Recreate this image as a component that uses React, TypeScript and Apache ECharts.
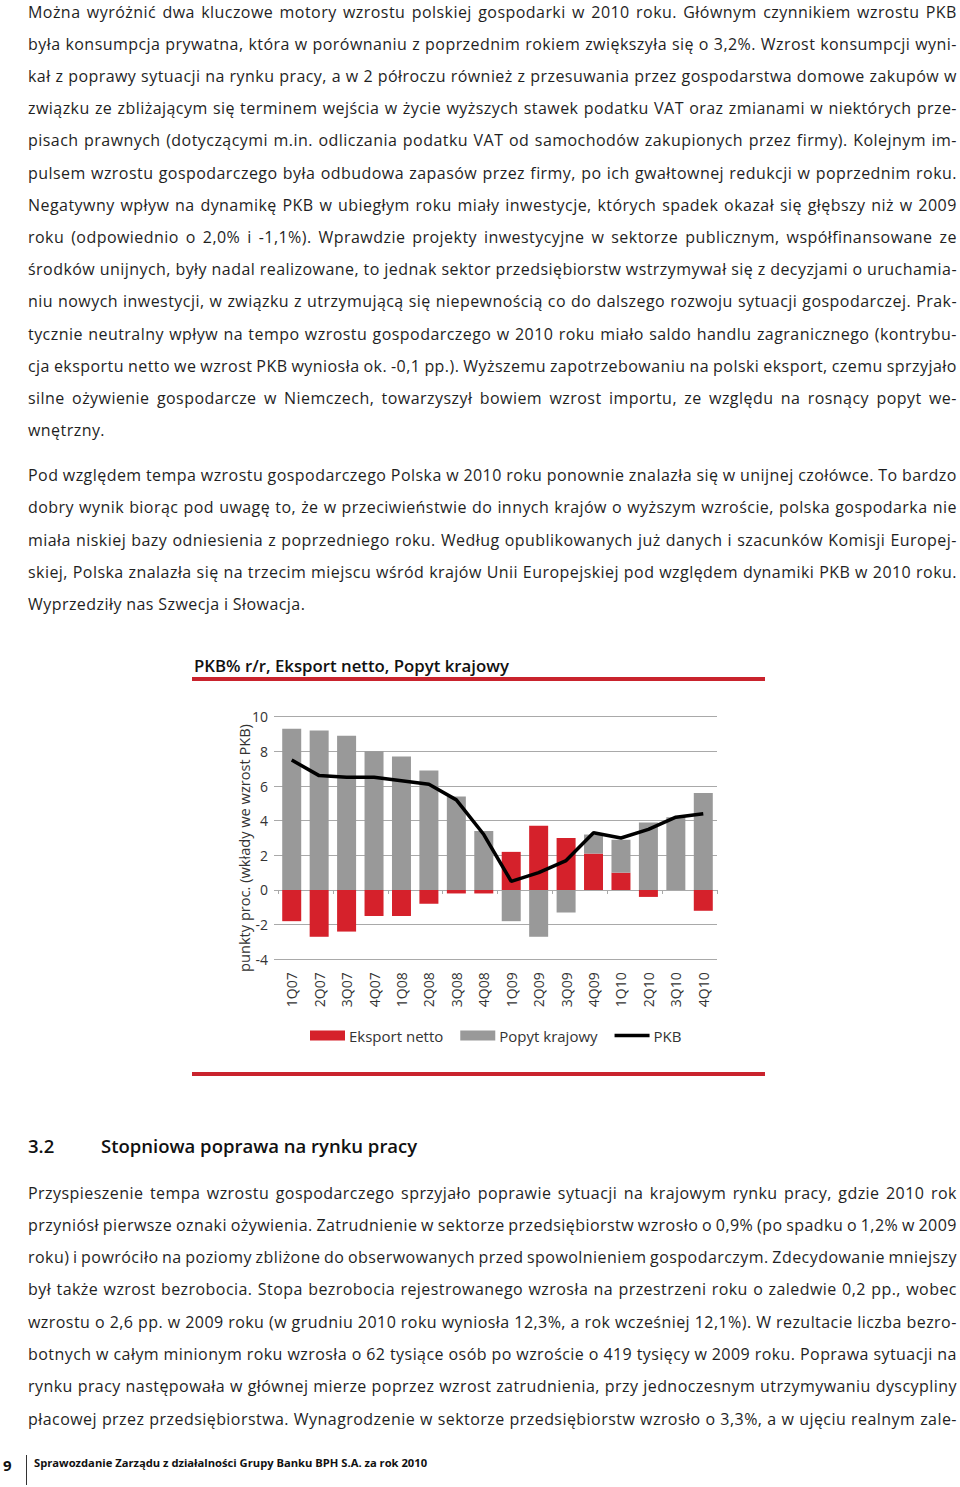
import React, { useEffect, useRef } from "react";
import * as echarts from "echarts";

const quarters = ["1Q07", "2Q07", "3Q07", "4Q07", "1Q08", "2Q08", "3Q08", "4Q08", "1Q09", "2Q09", "3Q09", "4Q09", "1Q10", "2Q10", "3Q10", "4Q10"];
const eksportNetto = [-1.8, -2.7, -2.4, -1.5, -1.5, -0.8, -0.2, -0.2, 2.2, 3.7, 3.0, 2.1, 1.0, -0.4, 0.0, -1.2];
const popytKrajowy = [9.3, 9.2, 8.9, 8.0, 7.7, 6.9, 5.4, 3.4, -1.8, -2.7, -1.3, 1.1, 1.9, 3.9, 4.2, 5.6];
const pkb = [7.5, 6.6, 6.5, 6.5, 6.3, 6.1, 5.2, 3.2, 0.5, 1.0, 1.7, 3.3, 3.0, 3.5, 4.2, 4.4];

const chartTitle = "PKB% r/r, Eksport netto, Popyt krajowy";
const yAxisTitle = "punkty proc. (wkłady we wzrost PKB)";

const para1 = [
  "Można wyróżnić dwa kluczowe motory wzrostu polskiej gospodarki w 2010 roku. Głównym czynnikiem wzrostu PKB",
  "była konsumpcja prywatna, która w porównaniu z poprzednim rokiem zwiększyła się o 3,2%. Wzrost konsumpcji wyni-",
  "kał z poprawy sytuacji na rynku pracy, a w 2 półroczu również z przesuwania przez gospodarstwa domowe zakupów w",
  "związku ze zbliżającym się terminem wejścia w życie wyższych stawek podatku VAT oraz zmianami w niektórych prze-",
  "pisach prawnych (dotyczącymi m.in. odliczania podatku VAT od samochodów zakupionych przez firmy). Kolejnym im-",
  "pulsem wzrostu gospodarczego była odbudowa zapasów przez firmy, po ich gwałtownej redukcji w poprzednim roku.",
  "Negatywny wpływ na dynamikę PKB w ubiegłym roku miały inwestycje, których spadek okazał się głębszy niż w 2009",
  "roku (odpowiednio o 2,0% i -1,1%). Wprawdzie projekty inwestycyjne w sektorze publicznym, współfinansowane ze",
  "środków unijnych, były nadal realizowane, to jednak sektor przedsiębiorstw wstrzymywał się z decyzjami o uruchamia-",
  "niu nowych inwestycji, w związku z utrzymującą się niepewnością co do dalszego rozwoju sytuacji gospodarczej. Prak-",
  "tycznie neutralny wpływ na tempo wzrostu gospodarczego w 2010 roku miało saldo handlu zagranicznego (kontrybu-",
  "cja eksportu netto we wzrost PKB wyniosła ok. -0,1 pp.). Wyższemu zapotrzebowaniu na polski eksport, czemu sprzyjało",
  "silne ożywienie gospodarcze w Niemczech, towarzyszył bowiem wzrost importu, ze względu na rosnący popyt we-",
  "wnętrzny.",
];
const para2 = [
  "Pod względem tempa wzrostu gospodarczego Polska w 2010 roku ponownie znalazła się w unijnej czołówce. To bardzo",
  "dobry wynik biorąc pod uwagę to, że w przeciwieństwie do innych krajów o wyższym wzroście, polska gospodarka nie",
  "miała niskiej bazy odniesienia z poprzedniego roku. Według opublikowanych już danych i szacunków Komisji Europej-",
  "skiej, Polska znalazła się na trzecim miejscu wśród krajów Unii Europejskiej pod względem dynamiki PKB w 2010 roku.",
  "Wyprzedziły nas Szwecja i Słowacja.",
];
const para3 = [
  "Przyspieszenie tempa wzrostu gospodarczego sprzyjało poprawie sytuacji na krajowym rynku pracy, gdzie 2010 rok",
  "przyniósł pierwsze oznaki ożywienia. Zatrudnienie w sektorze przedsiębiorstw wzrosło o 0,9% (po spadku o 1,2% w 2009",
  "roku) i powróciło na poziomy zbliżone do obserwowanych przed spowolnieniem gospodarczym. Zdecydowanie mniejszy",
  "był także wzrost bezrobocia. Stopa bezrobocia rejestrowanego wzrosła na przestrzeni roku o zaledwie 0,2 pp., wobec",
  "wzrostu o 2,6 pp. w 2009 roku (w grudniu 2010 roku wyniosła 12,3%, a rok wcześniej 12,1%). W rezultacie liczba bezro-",
  "botnych w całym minionym roku wzrosła o 62 tysiące osób po wzroście o 419 tysięcy w 2009 roku. Poprawa sytuacji na",
  "rynku pracy następowała w głównej mierze poprzez wzrost zatrudnienia, przy jednoczesnym utrzymywaniu dyscypliny",
  "płacowej przez przedsiębiorstwa. Wynagrodzenie w sektorze przedsiębiorstw wzrosło o 3,3%, a w ujęciu realnym zale-",
];

const FONT = "'Open Sans', 'Noto Sans', sans-serif";
const TEXT_COLOR = "#1f1f1f";

function Line({ text, centerY, justify }: { text: string; centerY: number; justify: boolean }) {
  const words = text.split(" ");
  return (
    <div
      style={{
        position: "absolute",
        left: 28,
        width: 929,
        top: centerY - 16,
        height: 32,
        lineHeight: "32px",
        display: "flex",
        flexWrap: "nowrap",
        justifyContent: justify ? "space-between" : "flex-start",
        columnGap: justify ? 0 : "0.27em",
        whiteSpace: "nowrap",
      }}
    >
      {words.map((w, i) => (
        <span key={i}>{w}</span>
      ))}
    </div>
  );
}

function Paragraph({ lines, startY, step, lastJustified }: { lines: string[]; startY: number; step: number; lastJustified?: boolean }) {
  return (
    <>
      {lines.map((t, i) => (
        <Line key={i} text={t} centerY={startY + i * step} justify={i < lines.length - 1 || !!lastJustified} />
      ))}
    </>
  );
}

function Chart() {
  const ref = useRef<HTMLDivElement>(null);
  useEffect(() => {
    if (!ref.current) return;
    const chart = echarts.init(ref.current, null, { renderer: "svg" });
    const red = "#d5212b";
    const gray = "#999999";
    const gridColor = "#a9a9a9";
    chart.setOption({
      animation: false,
      textStyle: { fontFamily: FONT },
      grid: { left: 98, top: 76.7, width: 439, height: 242.6, containLabel: false },
      legend: {
        left: 125,
        top: 383,
        itemGap: 17,
        itemWidth: 35,
        itemHeight: 10,
        symbolKeepAspect: true,
        textStyle: { fontSize: 15, color: "#333", fontFamily: FONT, padding: [0, 0, 0, -1] },
        data: [
          { name: "Eksport netto", icon: "rect" },
          { name: "Popyt krajowy", icon: "rect" },
          { name: "PKB", icon: "path://M0,0 L35,0 L35,3.5 L0,3.5 Z", itemStyle: { color: "#000" } },
        ],
      },
      xAxis: [
        {
          type: "category",
          data: quarters,
          position: "bottom",
          axisLine: { show: false, onZero: false },
          axisTick: { show: false },
          axisLabel: { rotate: 90, margin: 13, fontSize: 14, color: "#333", fontFamily: FONT },
        },
        {
          type: "category",
          data: quarters,
          position: "bottom",
          axisLine: { show: true, onZero: true, lineStyle: { color: gridColor, width: 1 } },
          axisTick: { show: true, length: 4, lineStyle: { color: gridColor } },
          axisLabel: { show: false },
          splitLine: { show: false },
        },
      ],
      yAxis: {
        type: "value",
        min: -4,
        max: 10,
        interval: 2,
        axisLine: { show: false },
        axisTick: { show: true, length: 4, lineStyle: { color: gridColor } },
        axisLabel: { fontSize: 14, color: "#333", margin: 10, fontFamily: FONT },
        splitLine: { lineStyle: { color: gridColor, width: 1 } },
      },
      graphic: [
        {
          type: "text",
          x: 14,
          y: 25,
          style: { text: chartTitle, font: `600 16.8px ${FONT}`, fill: "#111", textVerticalAlign: "middle" },
        },
        { type: "rect", shape: { x: 12, y: 37, width: 573, height: 4 }, style: { fill: "#c9232d" } },
        { type: "rect", shape: { x: 12, y: 432, width: 573, height: 4 }, style: { fill: "#c9232d" } },
        {
          type: "text",
          x: 64,
          y: 208,
          rotation: Math.PI / 2,
          style: {
            text: yAxisTitle,
            font: `14.6px ${FONT}`,
            fill: "#333",
            textAlign: "center",
            textVerticalAlign: "middle",
          },
        },
      ],
      series: [
        {
          name: "Eksport netto",
          type: "bar",
          stack: "total",
          barWidth: 19,
          xAxisIndex: 0,
          itemStyle: { color: red },
          data: eksportNetto,
        },
        {
          name: "Popyt krajowy",
          type: "bar",
          stack: "total",
          barWidth: 19,
          xAxisIndex: 0,
          itemStyle: { color: gray },
          data: popytKrajowy,
        },
        {
          name: "PKB",
          type: "line",
          xAxisIndex: 0,
          symbol: "none",
          z: 5,
          lineStyle: { color: "#000", width: 3.5 },
          itemStyle: { color: "#000" },
          data: pkb,
        },
      ],
    });
    return () => chart.dispose();
  }, []);
  return (
    <div
      ref={ref}
      style={{ position: "absolute", left: 180, top: 640, width: 600, height: 460, letterSpacing: "normal" }}
    />
  );
}

export default function App() {
  return (
    <div
      style={{
        position: "absolute",
        left: 0,
        top: 0,
        width: 960,
        height: 1487,
        overflow: "hidden",
        background: "#fff",
        fontFamily: FONT,
        fontSize: 16,
        letterSpacing: "0.45px",
        color: TEXT_COLOR,
      }}
    >
      <Paragraph lines={para1} startY={11.5} step={32.2} />
      <Paragraph lines={para2} startY={475} step={32.3} />
      <Chart />
      <div style={{ position: "absolute", left: 28, top: 1133, fontSize: 18.5, fontWeight: 600, letterSpacing: 0, lineHeight: "26px", color: "#111" }}>3.2</div>
      <div style={{ position: "absolute", left: 101, top: 1133, fontSize: 18.5, fontWeight: 600, letterSpacing: 0, lineHeight: "26px", color: "#111" }}>
        Stopniowa poprawa na rynku pracy
      </div>
      <Paragraph lines={para3} startY={1192.5} step={32.3} lastJustified />
      <div style={{ position: "absolute", left: 3, top: 1455, fontSize: 15, fontWeight: 700, letterSpacing: 0, lineHeight: "20px", color: "#111" }}>9</div>
      <div style={{ position: "absolute", left: 26, top: 1455, width: 1, height: 30, background: "#333" }} />
      <div style={{ position: "absolute", left: 34, top: 1455, fontSize: 11.2, fontWeight: 700, letterSpacing: 0, lineHeight: "16px", color: "#111" }}>
        Sprawozdanie Zarządu z działalności Grupy Banku BPH S.A. za rok 2010
      </div>
    </div>
  );
}
